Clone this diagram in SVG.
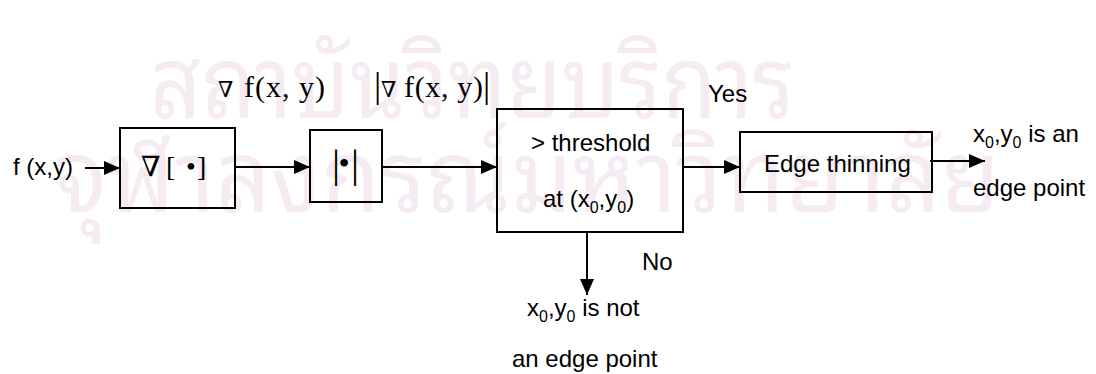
<svg xmlns="http://www.w3.org/2000/svg" width="1096" height="374" viewBox="0 0 1096 374">
<style>
.box{fill:none;stroke:#000;stroke-width:2}
.ln{stroke:#000;stroke-width:2;fill:none;marker-end:url(#ah)}
.t{font-family:"Liberation Sans",Arial,sans-serif;font-size:24px;fill:#000}
.m{font-family:"Liberation Serif","DejaVu Serif",serif;fill:#000}
.wm{font-family:"Noto Sans Thai Looped","Loma","Norasi","Garuda","Noto Serif Thai","Noto Sans Thai","DejaVu Sans",sans-serif;font-size:100px;fill:#f6ebf2}
</style>
<defs>
<marker id="ah" markerWidth="16" markerHeight="14" refX="16" refY="7" orient="auto" markerUnits="userSpaceOnUse"><path d="M0,0 L16,7 L0,14 Z" fill="#000"/></marker>
</defs>
<g id="watermark">
<text class="wm" x="150" y="118" textLength="645" lengthAdjust="spacingAndGlyphs">สถาบันวิทยบริการ</text>
<text class="wm" x="55" y="212" textLength="945" lengthAdjust="spacingAndGlyphs">จุฬาลงกรณ์มหาวิทยาลัย</text>
</g>
<g id="connectors">
<path class="ln" d="M85,168 H120"/>
<path class="ln" d="M235,167 H310"/>
<path class="ln" d="M382,167 H497"/>
<path class="ln" d="M683,167 H740"/>
<path class="ln" d="M930,161 H985"/>
<path class="ln" d="M587,232 V295"/>
</g>
<g id="input"><text class="t" x="13" y="175">f (x,y)</text></g>
<g id="gradient">
<rect class="box" x="120" y="128" width="115" height="80"/>
<text class="m" y="176" font-size="28"><tspan x="141">∇</tspan><tspan x="166">[</tspan><tspan x="186">•</tspan><tspan x="197">]</tspan></text>
</g>
<g id="label-grad">
<text class="m" y="97"><tspan x="218" font-size="22">∇</tspan><tspan x="244" font-size="30" textLength="81" lengthAdjust="spacing">f(x, y)</tspan></text>
</g>
<g id="magnitude">
<rect class="box" x="310" y="130" width="72" height="72"/>
<text class="m" y="177" font-size="40"><tspan x="332">|</tspan><tspan x="351">|</tspan></text>
<text class="m" x="344" y="174" font-size="32" text-anchor="middle">•</text>
</g>
<g id="label-mag">
<text class="m" y="97"><tspan x="374" font-size="36">|</tspan><tspan x="381" font-size="22">∇</tspan><tspan x="404" font-size="30" textLength="79" lengthAdjust="spacing">f(x, y)</tspan><tspan x="483" font-size="36">|</tspan></text>
</g>
<g id="threshold">
<rect class="box" x="497" y="109" width="186" height="123"/>
<text class="t" x="531" y="151">&gt; threshold</text>
<text class="t" x="543" y="207">at (x<tspan font-size="16" dy="6">0</tspan><tspan dy="-6">,y</tspan><tspan font-size="16" dy="6">0</tspan><tspan dy="-6">)</tspan></text>
</g>
<g id="thinning">
<rect class="box" x="740" y="132" width="192" height="60"/>
<text class="t" x="764" y="172">Edge thinning</text>
</g>
<g id="labels">
<text class="t" x="708" y="102">Yes</text>
<text class="t" x="642" y="270">No</text>
<text class="t" x="973" y="142">x<tspan font-size="16" dy="6">0</tspan><tspan dy="-6">,y</tspan><tspan font-size="16" dy="6">0</tspan><tspan dy="-6"> is an</tspan></text>
<text class="t" x="973" y="196">edge point</text>
<text class="t" x="527" y="316">x<tspan font-size="16" dy="6">0</tspan><tspan dy="-6">,y</tspan><tspan font-size="16" dy="6">0</tspan><tspan dy="-6"> is not</tspan></text>
<text class="t" x="512" y="367">an edge point</text>
</g>
</svg>
